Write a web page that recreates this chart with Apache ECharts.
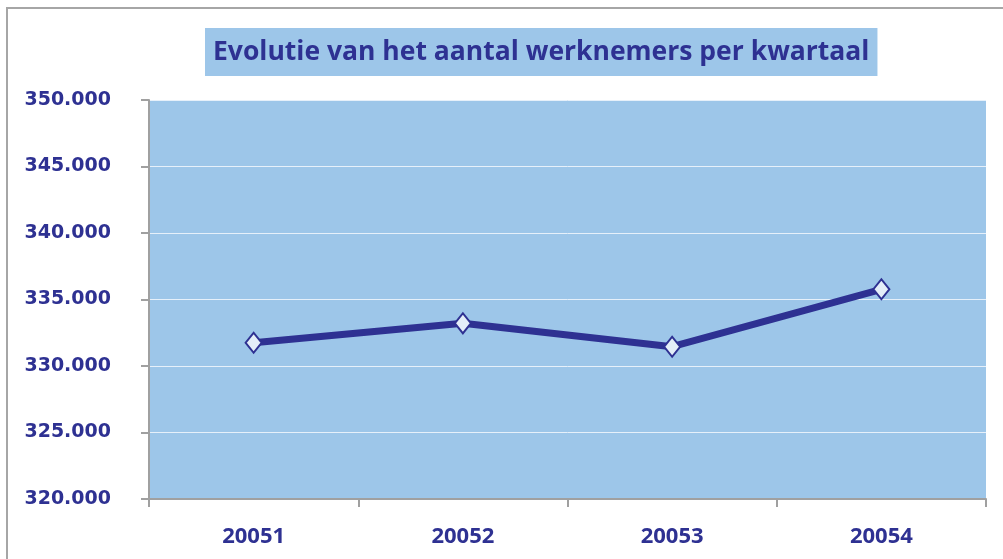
<!DOCTYPE html>
<html>
<head>
<meta charset="utf-8">
<script src="https://cdn.jsdelivr.net/npm/echarts@6/dist/echarts.min.js"></script>
<style>
  html, body { margin: 0; padding: 0; background: #fff; overflow: hidden; }
  #chart { width: 1003px; height: 559px; }
</style>
</head>
<body>
<div id="chart"></div>
<script>
var titleText = "Evolutie van het aantal werknemers per kwartaal";
var quarters = ["20051", "20052", "20053", "20054"];
var employees = [331750, 333210, 331450, 335770];
var yMin = 320000, yMax = 350000, yStep = 5000;

(function () {
  var myChart = echarts.init(document.getElementById("chart"));
  var navy = "#2E3192";
  var frameStyle = { stroke: "#a6a6a6", lineWidth: 2 };

  var option = {
    backgroundColor: "#fff",
    // outer chart frame (only top and left edges are visible)
    graphic: [
      { type: "line", shape: { x1: 6, y1: 8, x2: 1003, y2: 8 }, style: frameStyle },
      { type: "line", shape: { x1: 7, y1: 8, x2: 7, y2: 559 }, style: frameStyle }
    ],
    title: {
      text: titleText,
      left: 205,
      top: 28,
      padding: [9, 8, 9, 8],
      backgroundColor: "#9DC6E9",
      textStyle: {
        color: navy,
        fontFamily: "Open Sans",
        fontWeight: "bold",
        fontSize: 26.5,
        lineHeight: 30
      }
    },
    grid: {
      left: 149,
      right: 17,
      top: 100,
      bottom: 60,
      show: true,
      backgroundColor: "#9DC6E9",
      borderWidth: 0
    },
    xAxis: {
      type: "category",
      data: quarters,
      boundaryGap: true,
      axisLine: { lineStyle: { color: "#a0a0a0", width: 2 } },
      axisTick: { show: true, length: 8, lineStyle: { color: "#a0a0a0", width: 2 } },
      axisLabel: {
        margin: 27,
        color: navy,
        fontFamily: "Open Sans",
        fontWeight: "bold",
        fontSize: 22
      }
    },
    yAxis: {
      type: "value",
      min: yMin,
      max: yMax,
      interval: yStep,
      axisLine: { show: true, lineStyle: { color: "#a0a0a0", width: 2 } },
      axisTick: { show: true, length: 8, lineStyle: { color: "#a0a0a0", width: 2 } },
      splitLine: { lineStyle: { color: "#e6f0fa", width: 1 } },
      axisLabel: {
        margin: 38,
        color: navy,
        fontFamily: "DejaVu Sans",
        fontWeight: "bold",
        fontSize: 19,
        padding: [4, 0, 0, 0],
        formatter: function (v) {
          return (v / 1000).toFixed(3);
        }
      }
    },
    series: [
      {
        type: "line",
        data: employees,
        symbol: "diamond",
        symbolSize: [16, 20],
        lineStyle: { color: navy, width: 7 },
        itemStyle: { color: "#e4eef8", borderColor: navy, borderWidth: 2 },
        z: 3
      }
    ]
  };
  myChart.setOption(option);
})();
</script>
</body>
</html>
